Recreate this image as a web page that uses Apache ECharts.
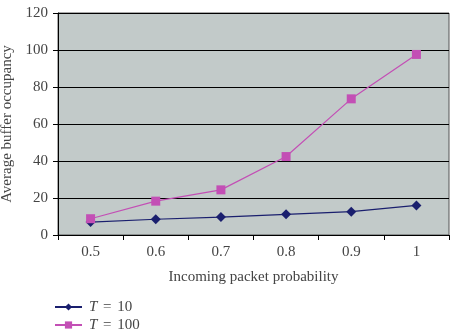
<!DOCTYPE html>
<html><head><meta charset="utf-8">
<script src="https://cdn.jsdelivr.net/npm/echarts@6/dist/echarts.min.js"></script>
<style>html,body{margin:0;padding:0;background:#fff}#c{width:451px;height:332px}</style>
</head><body><div id="c"></div>
<script>
const categories = ['0.5', '0.6', '0.7', '0.8', '0.9', '1'];
const seriesNames = ['T = 10', 'T = 100'];
const t10 = [7.0, 8.5, 9.7, 11.2, 12.6, 16.0];
const t100 = [8.8, 18.3, 24.4, 42.4, 73.6, 97.6];
const yTicks = { min: 0, max: 120, interval: 20 };
const font = '"Liberation Serif", "DejaVu Serif", serif';

const chart = echarts.init(document.getElementById('c'));
chart.setOption({
  animation: false,
  textStyle: { fontFamily: font },
  grid: { left: 58, right: 2, top: 13, bottom: 97, show: true, backgroundColor: '#c2cac9', borderColor: '#555', borderWidth: 1, containLabel: false, outerBoundsMode: 'none' },
  xAxis: {
    type: 'category', data: categories, boundaryGap: true,
    axisLine: { lineStyle: { color: '#000', width: 1 } },
    axisTick: { show: true, alignWithLabel: false, length: 5, lineStyle: { color: '#000' } },
    axisLabel: { color: '#444', fontSize: 15, fontFamily: font, margin: 10 },
    name: 'Incoming packet probability', nameLocation: 'middle', nameGap: 35,
    nameTextStyle: { color: '#444', fontSize: 15, fontFamily: font }
  },
  yAxis: {
    type: 'value', min: yTicks.min, max: yTicks.max, interval: yTicks.interval,
    axisLine: { show: true, lineStyle: { color: '#000' } },
    axisTick: { show: true, length: 5, lineStyle: { color: '#000' } },
    splitLine: { lineStyle: { color: '#000', width: 1 } },
    axisLabel: { color: '#444', fontSize: 15, fontFamily: font, margin: 10 },
    name: 'Average buffer occupancy', nameLocation: 'middle', nameGap: 41,
    nameTextStyle: { color: '#444', fontSize: 15, fontFamily: font }
  },
  legend: {
    orient: 'vertical', left: 54, top: 299, height: 40, padding: 0, itemGap: 2, itemWidth: 27, itemHeight: 9,
    data: seriesNames,
    formatter: n => '{i|T} {e|=} ' + n.split('= ')[1],
    textStyle: { color: '#444', fontSize: 15, lineHeight: 16, fontFamily: font, padding: [0, 0, 0, 2],
      rich: {
        i: { fontStyle: 'italic', fontSize: 15, lineHeight: 16, fontFamily: font, color: '#444' },
        e: { fontSize: 15, lineHeight: 16, fontFamily: font, color: '#444', padding: [0, 2] }
      } }
  },
  series: [
    { name: seriesNames[0], type: 'line', data: t10, symbol: 'diamond', symbolSize: 10,
      itemStyle: { color: '#1a1f6e' }, lineStyle: { color: '#1a1f6e', width: 1.2 } },
    { name: seriesNames[1], type: 'line', data: t100, symbol: 'rect', symbolSize: 9,
      itemStyle: { color: '#c34fb5' }, lineStyle: { color: '#c34fb5', width: 1.2 } }
  ]
});
</script></body></html>
